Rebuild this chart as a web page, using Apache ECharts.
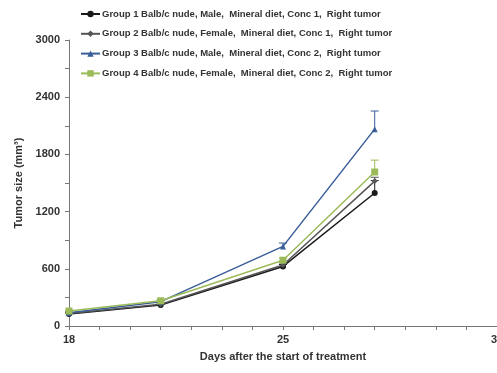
<!DOCTYPE html>
<html><head><meta charset="utf-8">
<script src="https://cdn.jsdelivr.net/npm/echarts@6/dist/echarts.min.js"></script>
<style>html,body{margin:0;padding:0;background:#fff}#c{width:497px;height:373px}</style>
</head><body><div id="c"></div>
<script>
const days = [18, 21, 25, 28];
const names = [
  'Group 1 Balb/c nude, Male,  Mineral diet, Conc 1,  Right tumor',
  'Group 2 Balb/c nude, Female,  Mineral diet, Conc 1,  Right tumor',
  'Group 3 Balb/c nude, Male,  Mineral diet, Conc 2,  Right tumor',
  'Group 4 Balb/c nude, Female,  Mineral diet, Conc 2,  Right tumor'
];
const g1 = [125, 220, 625, 1395];
const g2 = [130, 228, 640, 1520];
const g3 = [140, 255, 835, 2065];
const g4 = [157, 265, 690, 1615];
const e1 = [10, 10, 20, 130];
const e2 = [10, 10, 20, 40];
const e3 = [10, 15, 35, 190];
const e4 = [10, 15, 25, 125];
const colors = ['#1a1a1a', '#555555', '#3a5e99', '#9bbb59'];
const symbols = ['circle', 'diamond', 'triangle', 'rect'];
const vals = [g1, g2, g3, g4];
const errs = [e1, e2, e3, e4];
const xTickLabels = [18, 25, 32];
const yTickLabels = [0, 600, 1200, 1800, 2400, 3000];

const series = [];
vals.forEach((v, i) => {
  series.push({
    name: names[i], type: 'line', data: days.map((d, j) => [d, v[j]]),
    symbol: symbols[i], symbolSize: i === 3 ? 7 : 6,
    lineStyle: {color: colors[i], width: 1.5},
    itemStyle: {color: colors[i]}, z: 3 + i
  });
  series.push({
    type: 'custom', name: names[i] + ' err', silent: true,
    data: days.map((d, j) => [d, v[j], v[j] + errs[i][j]]),
    renderItem: function (params, api) {
      const x = api.value(0);
      const p0 = api.coord([x, api.value(1)]);
      const p1 = api.coord([x, api.value(2)]);
      const w = 4;
      return {type: 'group', children: [
        {type: 'line', shape: {x1: p0[0], y1: p0[1], x2: p1[0], y2: p1[1]}, style: {stroke: colors[i], lineWidth: 1}},
        {type: 'line', shape: {x1: p1[0] - w, y1: p1[1], x2: p1[0] + w, y2: p1[1]}, style: {stroke: colors[i], lineWidth: 1}}
      ]};
    },
    z: 2
  });
});

const chart = echarts.init(document.getElementById('c'));
chart.setOption({
  animation: false,
  textStyle: {fontFamily: 'Liberation Sans, Arial, sans-serif'},
  legend: {
    data: names, orient: 'vertical', left: 75, top: 4, itemGap: 9.8,
    itemWidth: 19, itemHeight: 8,
    textStyle: {fontSize: 9.5, fontWeight: 'bold', color: '#333', padding: [0,0,0,-3]}
  },
  grid: {left: 69, right: 0, top: 40, bottom: 47, containLabel: false, outerBoundsMode: 'none'},
  xAxis: {
    type: 'value', min: 18, max: 32, interval: 1,
    name: 'Days after the start of treatment', nameLocation: 'middle', nameGap: 25,
    nameTextStyle: {fontSize: 11, fontWeight: 'bold', color: '#333'},
    axisLine: {lineStyle: {color: '#777', width: 1}},
    axisTick: {show: true, length: 4, lineStyle: {color: '#777'}},
    axisLabel: {fontSize: 11, fontWeight: 'bold', color: '#333', margin: 8, hideOverlap: false,
      formatter: v => xTickLabels.includes(v) ? String(v) : ''},
    splitLine: {show: false}
  },
  yAxis: {
    type: 'value', min: 0, max: 3000, interval: 300,
    name: 'Tumor size (mm³)', nameLocation: 'middle', nameGap: 39, nameRotate: 90,
    nameTextStyle: {fontSize: 11, fontWeight: 'bold', color: '#333'},
    axisLine: {show: true, lineStyle: {color: '#777', width: 1}},
    axisTick: {show: true, length: 4, lineStyle: {color: '#777'}},
    axisLabel: {fontSize: 11, fontWeight: 'bold', color: '#333', margin: 9,
      formatter: v => yTickLabels.includes(v) ? String(v) : ''},
    splitLine: {show: false}
  },
  series: series
});
</script></body></html>
